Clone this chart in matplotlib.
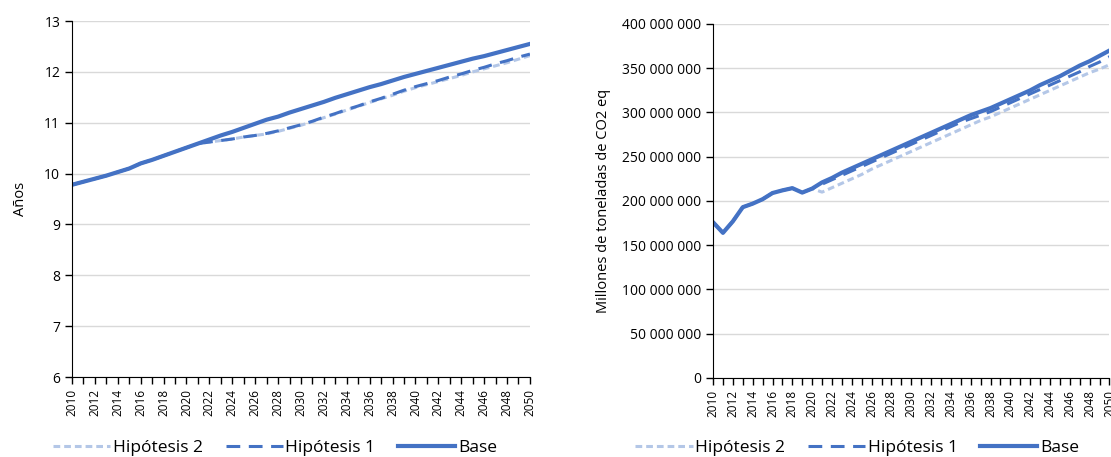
import matplotlib.pyplot as plt
import numpy as np
from matplotlib.ticker import FuncFormatter

years = list(range(2010, 2051))

# edad media (anios)
edad_base = [9.78, 9.84, 9.90, 9.96, 10.03, 10.10, 10.20, 10.27, 10.35, 10.43,
             10.51, 10.59, 10.67, 10.75, 10.82, 10.90, 10.98, 11.06, 11.12, 11.20,
             11.27, 11.34, 11.41, 11.49, 11.56, 11.63, 11.70, 11.76, 11.83, 11.90,
             11.96, 12.02, 12.08, 12.14, 12.20, 12.26, 12.31, 12.37, 12.43, 12.49, 12.55]
edad_hip1 = [9.78, 9.84, 9.90, 9.96, 10.03, 10.10, 10.20, 10.27, 10.35, 10.43,
             10.51, 10.59, 10.62, 10.65, 10.68, 10.72, 10.75, 10.79, 10.84, 10.90,
             10.96, 11.03, 11.11, 11.18, 11.26, 11.33, 11.41, 11.48, 11.56, 11.64,
             11.71, 11.77, 11.83, 11.90, 11.96, 12.03, 12.09, 12.16, 12.22, 12.29, 12.35]
edad_hip2 = [9.78, 9.84, 9.90, 9.96, 10.03, 10.10, 10.20, 10.27, 10.35, 10.43,
             10.51, 10.59, 10.62, 10.65, 10.68, 10.72, 10.75, 10.78, 10.83, 10.89,
             10.95, 11.02, 11.10, 11.17, 11.25, 11.32, 11.40, 11.47, 11.54, 11.62,
             11.69, 11.75, 11.81, 11.87, 11.93, 12.00, 12.06, 12.12, 12.18, 12.25, 12.32]

# emisiones (millones de toneladas)
co2_base = [176, 164, 177, 193, 197, 202, 209, 212, 214.5, 209.5,
            214, 221, 226, 232, 237, 242, 247, 252, 257, 262,
            267, 272, 277, 282, 287, 292, 297, 301, 305, 310,
            315, 320, 325, 331, 336, 341, 347, 353, 358, 364, 370]
co2_hip1 = [176, 164, 177, 193, 197, 202, 209, 212, 214.5, 209.5,
            214, 219, 224, 229, 234, 239, 244, 249, 254, 259,
            264, 269, 274, 279, 284, 289, 293, 297, 301, 306,
            311, 316, 321, 326, 331, 336, 341, 346, 352, 357, 363]
co2_hip2 = [176, 164, 177, 193, 197, 202, 209, 212, 214.5, 209.5,
            214, 210, 215, 220, 225, 230, 236, 241, 246, 251,
            256, 261, 266, 271, 276, 281, 286, 291, 295, 300,
            305, 310, 315, 320, 325, 330, 335, 340, 345, 349, 354]

labels = ['Hipótesis 2', 'Hipótesis 1', 'Base']
c_dark = '#4472C4'
c_light = '#B4C7E7'

plt.rcParams['font.family'] = ['Open Sans', 'DejaVu Sans']

fig = plt.figure(figsize=(11.11, 4.57), dpi=100)
ax1 = fig.add_axes([0.0648, 0.175, 0.4122, 0.779])
ax2 = fig.add_axes([0.6418, 0.1729, 0.3568, 0.7746])


def draw(ax, h2, h1, base, leg_x):
    ax.plot(years, h2, color=c_light, lw=2.2, dashes=(2.2, 1.3), label=labels[0])
    ax.plot(years, h1, color=c_dark, lw=2.2, dashes=(4.5, 2.8), label=labels[1])
    ax.plot(years, base, color=c_dark, lw=3, label=labels[2])
    ax.set_xlim(2010, 2050)
    ax.set_xticks(years, minor=True)
    ax.set_xticks(years[::2])
    ax.set_xticklabels([str(y) for y in years[::2]], rotation=90, fontsize=8.5)
    ax.tick_params(axis='x', which='both', direction='out', length=5, width=1)
    ax.tick_params(axis='y', direction='out', length=5, width=1, labelsize=10)
    ax.grid(axis='y', color='#d9d9d9', lw=1)
    ax.set_axisbelow(True)
    for s in ['top', 'right']:
        ax.spines[s].set_visible(False)
    ax.legend(loc='center', bbox_to_anchor=(leg_x, 0.02), bbox_transform=fig.transFigure,
              ncol=3, frameon=False, fontsize=12.5, handlelength=3.3,
              columnspacing=1.3, handletextpad=0.15, borderpad=0, borderaxespad=0)


draw(ax1, edad_hip2, edad_hip1, edad_base, 0.2475)
ax1.set_ylim(6, 13)
ax1.set_yticks(range(6, 14))
ax1.set_ylabel('Años', fontsize=10.5, labelpad=12)

draw(ax2, [v * 1e6 for v in co2_hip2], [v * 1e6 for v in co2_hip1],
     [v * 1e6 for v in co2_base], 0.7715)
ax2.set_ylim(0, 400e6)
ax2.set_yticks(np.arange(0, 400e6 + 1, 50e6))
ax2.yaxis.set_major_formatter(FuncFormatter(lambda v, p: f'{int(v):,}'.replace(',', ' ')))
ax2.set_ylabel('Millones de toneladas de CO2 eq', fontsize=10.5, labelpad=8)

fig.savefig('out.png', dpi=100)
